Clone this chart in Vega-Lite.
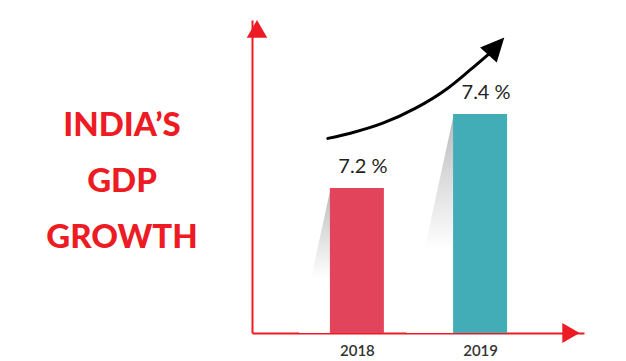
{
  "$schema": "https://vega.github.io/schema/vega-lite/v6.json",
  "padding": {"left": 0, "top": 20, "right": 10, "bottom": 0},
  "background": "#ffffff",
  "config": {"view": {"stroke": null}, "font": "Lato"},
  "spacing": 8,
  "bounds": "flush",
  "hconcat": [
    {
      "width": 244,
      "height": 313,
      "data": {"values": [
        {"line": "INDIA’S", "row": 1},
        {"line": "GDP", "row": 2},
        {"line": "GROWTH", "row": 3}
      ]},
      "mark": {"type": "text", "font": "Lato", "fontWeight": 900, "fontSize": 33, "color": "#ED1C24", "align": "center", "baseline": "alphabetic"},
      "encoding": {
        "y": {"field": "row", "type": "quantitative", "scale": {"domain": [-1.064, 4.505], "reverse": true, "nice": false, "zero": false}, "axis": null},
        "text": {"field": "line"}
      }
    },
    {
      "width": 332,
      "height": 313,
      "layer": [
        {
          "data": {"values": [
            {"bar": "2018", "y": 7.2, "x": 2017.787, "x2": 2017.787},
            {"bar": "2018", "y": 6.808, "x": 2017.531, "x2": 2017.787},
            {"bar": "2019", "y": 7.4, "x": 2018.787, "x2": 2018.787},
            {"bar": "2019", "y": 6.808, "x": 2018.402, "x2": 2018.787}
          ]},
          "mark": {"type": "area", "orient": "horizontal", "color": {"gradient": "linear", "x1": 0, "y1": 0, "x2": 0, "y2": 1, "stops": [{"offset": 0, "color": "#b8b8b8"}, {"offset": 0.3, "color": "#dcdcdc"}, {"offset": 0.62, "color": "#ffffff"}]}},
          "encoding": {
            "y": {"field": "y", "type": "quantitative", "scale": {"domain": [6.808, 7.654], "zero": false, "nice": false},
              "axis": {"title": null, "grid": false, "ticks": false, "labels": false, "domainColor": "#ED1C24", "domainWidth": 2}},
            "x": {"field": "x", "type": "quantitative", "scale": {"domain": [2017.189, 2019.803], "zero": false, "nice": false},
              "axis": {"values": [2018, 2019], "format": "d", "title": null, "grid": false, "ticks": false, "domainColor": "#ED1C24", "domainWidth": 2, "labelFont": "Lato", "labelFontSize": 15, "labelFontWeight": 600, "labelColor": "#333333", "labelPadding": 10, "labelFlush": false}},
            "x2": {"field": "x2"},
            "detail": {"field": "bar"}
          }
        },
        {
          "data": {"values": [
            {"year": 2018, "gdp": 7.2, "label": "7.2 %"},
            {"year": 2019, "gdp": 7.4, "label": "7.4 %"}
          ]},
          "layer": [
            {
              "mark": {"type": "bar", "width": 54, "clip": true},
              "encoding": {
                "x": {"field": "year", "type": "quantitative"},
                "y": {"field": "gdp", "type": "quantitative"},
                "color": {"field": "year", "type": "nominal", "scale": {"range": ["#E2445C", "#42ADB6"]}, "legend": null}
              }
            },
            {
              "mark": {"type": "text", "font": "Lato", "fontSize": 20, "color": "#231F20", "baseline": "alphabetic", "align": "center", "dx": 6, "dy": -15},
              "encoding": {
                "x": {"field": "year", "type": "quantitative"},
                "y": {"field": "gdp", "type": "quantitative"},
                "text": {"field": "label"}
              }
            }
          ]
        },
        {
          "data": {"values": [
            {"x": 2017.764, "y": 7.334},
            {"x": 2017.947, "y": 7.348},
            {"x": 2018.210, "y": 7.375},
            {"x": 2018.473, "y": 7.415},
            {"x": 2018.735, "y": 7.469},
            {"x": 2018.919, "y": 7.519},
            {"x": 2019.070, "y": 7.562}
          ]},
          "mark": {"type": "line", "color": "#000000", "strokeWidth": 3, "interpolate": "monotone", "strokeCap": "round"},
          "encoding": {
            "x": {"field": "x", "type": "quantitative"},
            "y": {"field": "y", "type": "quantitative"}
          }
        },
        {
          "data": {"values": [{"x": 2019.132, "y": 7.583}]},
          "mark": {"type": "point", "shape": "M0,-1.06L-1,1.06L1,1.06Z", "size": 502, "angle": 42, "filled": true, "color": "#000000", "opacity": 1},
          "encoding": {
            "x": {"field": "x", "type": "quantitative"},
            "y": {"field": "y", "type": "quantitative"}
          }
        },
        {
          "data": {"values": [{"x": 2017.189, "y": 7.630}]},
          "mark": {"type": "point", "shape": "triangle-up", "size": 420, "filled": true, "color": "#ED1C24", "opacity": 1},
          "encoding": {
            "x": {"field": "x", "type": "quantitative"},
            "y": {"field": "y", "type": "quantitative"}
          }
        },
        {
          "data": {"values": [{"x": 2019.738, "y": 6.808}]},
          "mark": {"type": "point", "shape": "triangle-right", "size": 400, "filled": true, "color": "#ED1C24", "opacity": 1},
          "encoding": {
            "x": {"field": "x", "type": "quantitative"},
            "y": {"field": "y", "type": "quantitative"}
          }
        }
      ]
    }
  ]
}
